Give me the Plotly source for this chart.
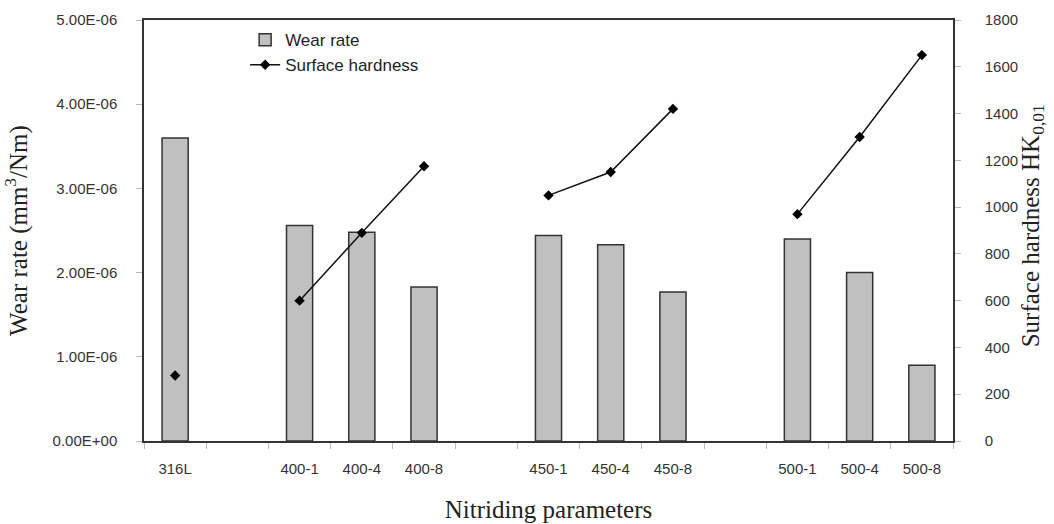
import plotly.graph_objects as go

# Categories (blank slots separate the groups)
categories = ["316L", " ", "400-1", "400-4", "400-8", "  ", "450-1", "450-4", "450-8",
              "   ", "500-1", "500-4", "500-8"]
# Wear rate (mm^3/Nm)
wear_rate = [3.60e-6, None, 2.56e-6, 2.48e-6, 1.83e-6, None, 2.44e-6, 2.33e-6, 1.77e-6,
             None, 2.40e-6, 2.00e-6, 0.90e-6]
# Surface hardness HK0,01
hardness = [280, None, 600, 890, 1175, None, 1050, 1150, 1420, None, 970, 1300, 1650]

left_tickvals = [0, 1e-6, 2e-6, 3e-6, 4e-6, 5e-6]
left_ticktext = ["0.00E+00", "1.00E-06", "2.00E-06", "3.00E-06", "4.00E-06", "5.00E-06"]
right_tickvals = [0, 200, 400, 600, 800, 1000, 1200, 1400, 1600, 1800]

tick_font = dict(family="Liberation Sans, Arial, sans-serif", size=15, color="#333333")
title_font = dict(family="Liberation Serif, Times New Roman, serif", size=25, color="#222222")

fig = go.Figure()
fig.add_trace(go.Bar(
    x=categories, y=wear_rate, name="Wear rate",
    marker=dict(color="#c0c0c0", line=dict(color="#333333", width=1.5)),
    yaxis="y",
))
fig.add_trace(go.Scatter(
    x=categories, y=hardness, name="Surface hardness",
    mode="lines+markers", connectgaps=False,
    line=dict(color="#111111", width=1.5),
    marker=dict(symbol="diamond", size=8, color="#000000"),
    yaxis="y2",
))

fig.update_layout(
    width=1054, height=524,
    margin=dict(l=144, r=101, t=20, b=83),
    paper_bgcolor="white", plot_bgcolor="white",
    bargap=0.58,
    showlegend=True,
    legend=dict(x=0.125, y=0.995, xanchor="left", yanchor="top",
                font=dict(family="Liberation Sans, Arial, sans-serif", size=17, color="#222222"),
                bgcolor="rgba(0,0,0,0)", itemwidth=30),
    xaxis=dict(
        type="category", categoryorder="array", categoryarray=categories,
        range=[-0.5, len(categories) - 0.5], automargin=False,
        showline=True, linecolor="#333333", linewidth=1.5, mirror=True,
        ticks="outside", tickson="boundaries", ticklen=6, tickcolor="#bbbbbb",
        ticklabelstandoff=13,
        tickfont=tick_font, showgrid=False,
        title=dict(text="Nitriding parameters", font=title_font, standoff=25),
    ),
    yaxis=dict(
        range=[0, 5e-6], tickvals=left_tickvals, ticktext=left_ticktext, automargin=False,
        showline=True, linecolor="#333333", linewidth=1.5,
        ticks="outside", ticklen=6, tickcolor="#bbbbbb",
        ticklabelstandoff=16,
        tickfont=tick_font, showgrid=False, zeroline=False,
        title=dict(text="Wear rate (mm<sup>3</sup>/Nm)", font=title_font, standoff=18),
    ),
    yaxis2=dict(
        range=[0, 1800], tickvals=right_tickvals, automargin=False,
        overlaying="y", side="right",
        showline=True, linecolor="#333333", linewidth=1.5,
        ticks="outside", ticklen=6, tickcolor="#bbbbbb",
        ticklabelstandoff=21,
        tickfont=tick_font, showgrid=False, zeroline=False,
    ),
    annotations=[dict(
        text="Surface hardness HK<sub>0,01</sub>", textangle=-90,
        xref="paper", yref="paper", x=(1032 - 144) / 809, y=0.51,
        xanchor="center", yanchor="middle", showarrow=False, font=title_font,
    )],
)

fig.write_html("out.html")
